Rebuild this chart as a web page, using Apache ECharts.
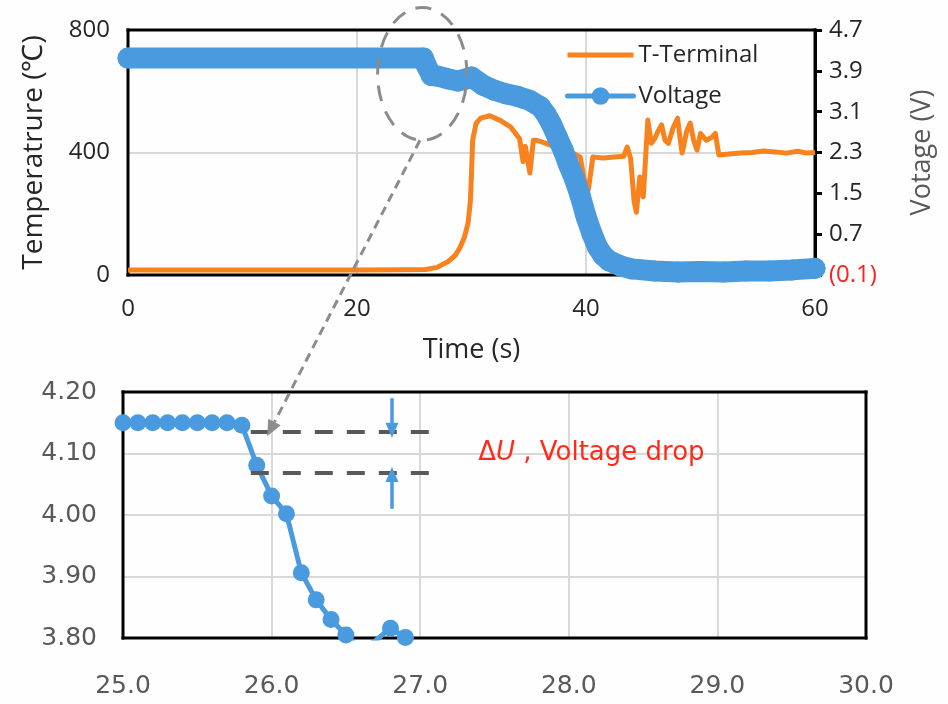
<!DOCTYPE html>
<html>
<head>
<meta charset="utf-8">
<script src="https://cdn.jsdelivr.net/npm/echarts@6/dist/echarts.min.js"></script>
<style>
  html, body { margin: 0; padding: 0; background: #fefefe; }
  #main { width: 948px; height: 704px; }
</style>
</head>
<body>
<div id="main"></div>
<script>
// top panel: terminal temperature (left axis) and cell voltage (right axis)
const tempTime = [0, 5, 10, 15, 20, 24, 26, 27, 28, 28.6, 29, 29.4, 29.7, 29.9, 30.0, 30.1, 30.4, 30.8, 31.6, 32.5, 33.4, 34.2, 34.5, 34.7, 35.1, 35.4, 35.7, 36.5, 37.2, 37.8, 38.3, 38.6, 39.0, 39.5, 39.9, 40.2, 40.6, 41.5, 42.5, 43.3, 43.6, 43.9, 44.2, 44.4, 44.7, 45.0, 45.4, 45.7, 46.0, 46.3, 46.6, 46.9, 47.2, 47.6, 48.0, 48.2, 48.4, 48.8, 49.1, 49.4, 49.7, 50.0, 50.5, 51.0, 51.3, 51.6, 52.5, 53.5, 54.5, 55.5, 56.5, 57.5, 58.5, 59.3, 60];
const tempVals = [16, 16, 16, 16, 16, 17, 18, 25, 45, 65, 90, 125, 170, 240, 330, 440, 495, 512, 520, 505, 484, 445, 370, 420, 333, 440, 440, 430, 420, 415, 431, 378, 395, 385, 300, 278, 385, 382, 385, 388, 418, 380, 240, 205, 320, 255, 506, 430, 445, 470, 490, 440, 430, 480, 512, 450, 398, 470, 496, 440, 408, 462, 440, 450, 462, 392, 395, 398, 400, 405, 402, 398, 404, 398, 400];

const voltTime = [0, 25.8, 26.0, 26.5, 27.0, 28.0, 28.8, 29.5, 30.0, 31.0, 32.0, 33.0, 34.0, 35.0, 36.0, 36.5, 37.0, 37.5, 38.0, 38.5, 39.0, 39.5, 40.0, 40.5, 41.0, 41.5, 42.0, 43.0, 44.0, 46.0, 48.0, 50.0, 52.0, 54.0, 56.0, 58.0, 60.0];
const voltVals = [4.15, 4.15, 4.03, 3.81, 3.80, 3.74, 3.70, 3.74, 3.78, 3.62, 3.52, 3.45, 3.40, 3.33, 3.20, 3.05, 2.85, 2.60, 2.35, 2.05, 1.78, 1.45, 1.05, 0.72, 0.45, 0.28, 0.18, 0.08, 0.02, -0.02, -0.04, -0.03, -0.04, -0.02, -0.02, 0.0, 0.03];

// bottom panel: zoom of the voltage step, 25 s to 30 s
const insetTime = [25.0, 25.1, 25.2, 25.3, 25.4, 25.5, 25.6, 25.7, 25.8, 25.9, 26.0, 26.1, 26.2, 26.3, 26.4, 26.5, 26.6, 26.7, 26.8, 26.9, 27.0];
const insetVolt = [4.15, 4.15, 4.15, 4.15, 4.15, 4.15, 4.15, 4.15, 4.146, 4.081, 4.031, 4.002, 3.906, 3.862, 3.830, 3.805, 3.78, 3.796, 3.816, 3.801, 3.78];

// voltage drop markers (upper / lower level)
const dropLevels = [4.135, 4.069];

const orange = '#F7821E';
const blue = '#4A9ADF';
const grey = '#595959';

const pairs = (xs, ys) => xs.map((x, i) => [x, ys[i]]);

const chart = echarts.init(document.getElementById('main'));

const gridLine = { showMinLine: false, showMaxLine: false, lineStyle: { color: '#d9d9d9', width: 2 } };

const option = {
  backgroundColor: '#fefefe',
  animation: false,
  textStyle: { fontFamily: 'Open Sans' },
  legend: {
    left: 560,
    top: 38,
    orient: 'vertical',
    itemWidth: 66,
    itemHeight: 22,
    itemGap: 17,
    data: [
      { name: 'T-Terminal', itemStyle: { opacity: 0 } },
      { name: 'Voltage' }
    ],
    textStyle: { fontSize: 24, color: '#262626', fontFamily: 'Open Sans' },
    lineStyle: { width: 5 }
  },
  grid: [
    { left: 128, top: 30, width: 687, height: 245 },
    { left: 123, top: 392, width: 743, height: 246 }
  ],
  xAxis: [
    {
      gridIndex: 0, type: 'value', min: 0, max: 60, interval: 20,
      name: 'Time (s)', nameLocation: 'middle', nameGap: 62,
      nameTextStyle: { fontSize: 27, color: '#262626' },
      axisLine: { show: false }, axisTick: { show: false },
      axisLabel: { fontSize: 24, color: '#262626', margin: 22 },
      splitLine: gridLine
    },
    {
      gridIndex: 1, type: 'value', min: 25, max: 30, interval: 1,
      axisLine: { show: false }, axisTick: { show: false },
      axisLabel: { fontSize: 25, color: grey, margin: 36, fontFamily: 'DejaVu Sans', formatter: v => v.toFixed(1) },
      splitLine: gridLine
    }
  ],
  yAxis: [
    {
      gridIndex: 0, type: 'value', min: 0, max: 800, interval: 400,
      name: 'Temperatrure (℃)', nameLocation: 'middle', nameGap: 80,
      nameTextStyle: { fontSize: 28, color: '#262626' },
      axisLine: { show: false }, axisTick: { show: false },
      axisLabel: { fontSize: 24, color: '#262626', margin: 18 },
      splitLine: gridLine
    },
    {
      gridIndex: 0, type: 'value', position: 'right', min: -0.1, max: 4.7, interval: 0.8,
      name: 'Votage (V)', nameLocation: 'middle', nameGap: 94, nameRotate: 90,
      nameTextStyle: { fontSize: 27, color: grey },
      axisLine: { show: true, onZero: false, lineStyle: { color: '#000', width: 3 } },
      axisTick: { show: true, length: 7, lineStyle: { color: '#000', width: 3 } },
      axisLabel: {
        fontSize: 24, color: '#262626', margin: 14,
        formatter: v => v < 0 ? '{neg|(' + Math.abs(v).toFixed(1) + ')}' : v.toFixed(1),
        rich: { neg: { color: '#ff2020', fontSize: 24, fontFamily: 'Open Sans' } }
      },
      splitLine: { show: false }
    },
    {
      gridIndex: 1, type: 'value', min: 3.8, max: 4.2, interval: 0.1,
      axisLine: { show: false }, axisTick: { show: false },
      axisLabel: { fontSize: 25, color: grey, margin: 26, fontFamily: 'DejaVu Sans', formatter: v => v.toFixed(2) },
      splitLine: gridLine
    }
  ],
  series: [
    {
      name: 'T-Terminal', type: 'line', xAxisIndex: 0, yAxisIndex: 0,
      data: pairs(tempTime, tempVals),
      symbol: 'none', color: orange,
      lineStyle: { width: 5, color: orange, join: 'round' }
    },
    {
      name: 'Voltage', type: 'line', xAxisIndex: 0, yAxisIndex: 1,
      data: pairs(voltTime, voltVals),
      symbol: 'circle', symbolSize: 21, clip: false, color: blue,
      itemStyle: { color: blue },
      lineStyle: { width: 21, color: blue, cap: 'round', join: 'round' }
    },
    {
      name: 'Voltage zoom', type: 'line', xAxisIndex: 1, yAxisIndex: 2,
      data: pairs(insetTime, insetVolt),
      symbol: 'circle', symbolSize: 17, clip: true, color: blue,
      itemStyle: { color: blue },
      lineStyle: { width: 5, color: blue },
      markLine: {
        silent: true, animation: false,
        label: { show: false },
        symbol: ['none', 'none'],
        data: [
          [{ coord: [25.86, dropLevels[0]], lineStyle: { type: [18, 14], color: grey, width: 4 } }, { coord: [27.11, dropLevels[0]] }],
          [{ coord: [25.86, dropLevels[1]], lineStyle: { type: [18, 14], color: grey, width: 4 } }, { coord: [27.11, dropLevels[1]] }],
          [{ coord: [26.81, 4.19], symbol: 'none', lineStyle: { type: 'solid', color: blue, width: 3.5 } }, { coord: [26.81, 4.138], symbol: 'triangle', symbolSize: [13, 15] }],
          [{ coord: [26.81, 4.01], symbol: 'none', lineStyle: { type: 'solid', color: blue, width: 3.5 } }, { coord: [26.81, 4.066], symbol: 'triangle', symbolSize: [13, 15] }]
        ]
      }
    }
  ]
};

chart.setOption(option);

// frames and annotations placed from each panel's own coordinates
function drawNotes() {
  const topF = { xAxisIndex: 0, yAxisIndex: 1 };
  const botF = { xAxisIndex: 1, yAxisIndex: 2 };
  const tl0 = chart.convertToPixel(topF, [0, 4.7]), br0 = chart.convertToPixel(topF, [60, -0.1]);
  const tl1 = chart.convertToPixel(botF, [25, 4.2]), br1 = chart.convertToPixel(botF, [30, 3.8]);
  const c = chart.convertToPixel(topF, [25.7, 3.84]);
  const e = chart.convertToPixel(topF, [25.7 + 3.9, 3.84 + 1.3]);
  const a0 = chart.convertToPixel(topF, [25.5, 2.54]);
  const a1 = chart.convertToPixel(botF, [25.97, 4.128]);
  const t = chart.convertToPixel(botF, [27.39, 4.10]);

  const dx = a1[0] - a0[0], dy = a1[1] - a0[1];
  const len = Math.sqrt(dx * dx + dy * dy);
  const ux = dx / len, uy = dy / len;
  const head = 16, half = 7;
  const bx = a1[0] - ux * head, by = a1[1] - uy * head;

  // four solid bars for each panel border, under the series
  const bar = (x, y, w, h) => ({ type: 'rect', z: 1, silent: true, shape: { x, y, width: w, height: h }, style: { fill: '#000' } });
  const frame = (tl, br) => {
    const w = br[0] - tl[0], h = br[1] - tl[1], s = 3;
    return [
      bar(tl[0] - 1.5, tl[1] - 1.5, w + s, s),
      bar(tl[0] - 1.5, br[1] - 1.5, w + s, s),
      bar(tl[0] - 1.5, tl[1] - 1.5, s, h + s),
      bar(br[0] - 1.5, tl[1] - 1.5, s, h + s)
    ];
  };

  chart.setOption({
    graphic: [
      ...frame(tl0, br0),
      ...frame(tl1, br1),
      {
        type: 'ellipse', z: 100,
        shape: { cx: c[0], cy: c[1], rx: Math.abs(e[0] - c[0]), ry: Math.abs(e[1] - c[1]) },
        style: { fill: 'none', stroke: '#8c8c8c', lineWidth: 3, lineDash: [16, 11] }
      },
      {
        type: 'line', z: 100,
        shape: { x1: a0[0], y1: a0[1], x2: bx, y2: by },
        style: { stroke: '#8c8c8c', lineWidth: 3, lineDash: [9, 6] }
      },
      {
        type: 'polygon', z: 100,
        shape: { points: [[a1[0], a1[1]], [bx - uy * half, by + ux * half], [bx + uy * half, by - ux * half]] },
        style: { fill: '#8c8c8c' }
      },
      {
        type: 'text', z: 100, x: t[0], y: t[1],
        style: {
          text: 'Δ{u|U} , Voltage drop',
          fill: '#ff2a1a', fontSize: 26, fontFamily: 'DejaVu Sans',
          verticalAlign: 'middle', align: 'left',
          rich: { u: { fontStyle: 'italic', fill: '#ff2a1a', fontSize: 26, fontFamily: 'DejaVu Sans' } }
        }
      }
    ]
  });
}
drawNotes();
</script>
</body>
</html>
